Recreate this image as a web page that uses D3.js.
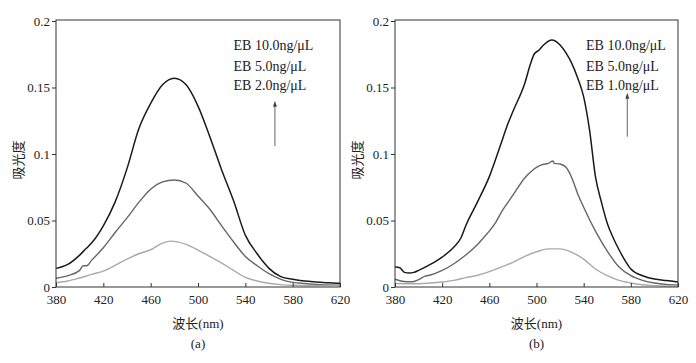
<!DOCTYPE html>
<html>
<head>
<meta charset="utf-8">
<script src="https://cdn.jsdelivr.net/npm/d3@7"></script>
<style>
body{margin:0;background:#fff}
text{font-family:"Liberation Serif","Times New Roman",serif;fill:#222}
.cjk{font-family:"Noto Sans CJK SC","Noto Sans",sans-serif}
</style>
</head>
<body>
<svg id="chart" width="696" height="363"></svg>
<script>
// tick values / labels
var xTicks = [380, 420, 460, 500, 540, 580, 620];
var yTicks = [0, 0.05, 0.1, 0.15, 0.2];
var yTickLabels = ["0", "0.05", "0.1", "0.15", "0.2"];

// panel (a)
var nmA_hi = [380,390,400,405,410,420,430,440,450,460,470,480,490,500,510,520,530,540,550,556,560,570,580,590,600,610,620];
var absA_hi = [0.014,0.017,0.024,0.0285,0.033,0.046,0.064,0.089,0.119,0.138,0.152,0.157,0.152,0.136,0.113,0.088,0.065,0.039,0.025,0.018,0.014,0.0078,0.0058,0.0045,0.0038,0.0032,0.0028];
var nmA_mid = [380,390,400,403,406,410,420,430,440,450,460,470,480,490,500,510,520,530,540,550,560,570,580,590,600,610,620];
var absA_mid = [0.0066,0.0085,0.0125,0.016,0.016,0.02,0.0295,0.041,0.052,0.0636,0.0735,0.079,0.0805,0.078,0.0684,0.0585,0.046,0.034,0.023,0.016,0.010,0.0058,0.0035,0.0026,0.002,0.0016,0.0013];
var nmA_lo = [380,390,400,410,420,430,440,450,460,470,477,490,500,510,520,530,540,550,560,570,580,600,620];
var absA_lo = [0.0033,0.0045,0.0068,0.0095,0.012,0.0163,0.021,0.025,0.028,0.033,0.0345,0.032,0.0278,0.023,0.018,0.0125,0.0073,0.0045,0.0028,0.0018,0.0013,0.001,0.001];

// panel (b)
var nmB_hi = [380,384,388,392,396,400,410,420,430,436,440,450,460,470,475,480,490,495,498,502,506,513,520,525,530,535,540,545,550,555,560,565,570,575,580,590,600,610,620];
var absB_hi = [0.015,0.0145,0.011,0.0105,0.011,0.0125,0.017,0.0225,0.030,0.037,0.046,0.064,0.083,0.108,0.121,0.132,0.153,0.168,0.175,0.178,0.182,0.1857,0.182,0.176,0.168,0.157,0.143,0.118,0.083,0.064,0.048,0.037,0.028,0.020,0.0135,0.0085,0.006,0.0048,0.0038];
var nmB_mid = [380,385,390,395,400,405,410,420,430,440,450,456,460,465,470,480,490,495,500,505,510,514,515,520,525,530,535,540,550,560,570,580,590,600,610,620];
var absB_mid = [0.0058,0.0045,0.004,0.004,0.0055,0.008,0.009,0.0125,0.0175,0.024,0.032,0.038,0.042,0.048,0.056,0.069,0.082,0.0865,0.09,0.092,0.093,0.0947,0.093,0.0925,0.09,0.082,0.07,0.06,0.042,0.027,0.015,0.0085,0.005,0.003,0.002,0.0015];
var nmB_lo = [380,390,400,410,420,430,440,450,460,470,480,490,500,510,520,530,540,550,560,570,580,590,600,610,620];
var absB_lo = [0.0026,0.0025,0.0025,0.003,0.0038,0.005,0.007,0.0088,0.0115,0.015,0.0185,0.023,0.0265,0.0287,0.0287,0.026,0.021,0.0135,0.0085,0.005,0.003,0.0017,0.001,0.0008,0.0008];

var colors = ["#1a1a1a", "#666666", "#aaaaaa"];

var panels = [
  {left:56, right:340, tag:"(a)",
   series:[[nmA_hi,absA_hi],[nmA_mid,absA_mid],[nmA_lo,absA_lo]],
   legend:["EB 10.0ng/\u03bcL","EB 5.0ng/\u03bcL","EB 2.0ng/\u03bcL"],
   legendNm:530, arrowNm:565, arrow:[0.106,0.140]},
  {left:395, right:678, tag:"(b)",
   series:[[nmB_hi,absB_hi],[nmB_mid,absB_mid],[nmB_lo,absB_lo]],
   legend:["EB 10.0ng/\u03bcL","EB 5.0ng/\u03bcL","EB 1.0ng/\u03bcL"],
   legendNm:542, arrowNm:577, arrow:[0.113,0.146]}
];

var plotTop = 21, plotBottom = 287;
var svg = d3.select("#chart");

panels.forEach(function(p){
  var x = d3.scaleLinear().domain([380,620]).range([p.left,p.right]);
  var y = d3.scaleLinear().domain([0,0.2]).range([plotBottom,plotTop]);
  var g = svg.append("g");

  // curves
  var line = d3.line().x(function(d){return x(d[0]);}).y(function(d){return y(d[1]);}).curve(d3.curveMonotoneX);
  p.series.forEach(function(s,i){
    var pts = d3.zip(s[0], s[1]);
    g.append("path").attr("d", line(pts)).attr("fill","none")
      .attr("stroke", colors[i]).attr("stroke-width", i==0 ? 1.5 : 1.4);
  });

  // frame
  g.append("rect").attr("x",p.left).attr("y",plotTop-1).attr("width",p.right-p.left).attr("height",plotBottom-plotTop+1)
    .attr("fill","none").attr("stroke","#333").attr("stroke-width",1);

  // axes
  var xa = g.append("g").attr("transform","translate(0,"+plotBottom+")")
    .call(d3.axisBottom(x).tickValues(xTicks).tickSizeInner(-4).tickSizeOuter(0).tickPadding(8));
  var ya = g.append("g").attr("transform","translate("+p.left+",0)")
    .call(d3.axisLeft(y).tickValues(yTicks).tickFormat(function(d,i){return yTickLabels[i];}).tickSize(4).tickPadding(2));
  [xa,ya].forEach(function(a){
    a.select(".domain").remove();
    a.selectAll("line").attr("stroke","#333");
    a.selectAll("text").attr("font-family","Liberation Serif, serif").attr("font-size",13).attr("fill","#222");
  });

  // axis titles
  g.append("text").attr("class","cjk").attr("font-size",13)
    .attr("transform","translate("+(p.left-37)+",160) rotate(-90)")
    .attr("text-anchor","middle").attr("dominant-baseline","middle").text("吸光度");
  var cx = (p.left+p.right)/2;
  var xt = g.append("text").attr("x",cx).attr("y",328).attr("text-anchor","middle").attr("font-size",13);
  xt.append("tspan").attr("class","cjk").text("波长");
  xt.append("tspan").text("(nm)");
  g.append("text").attr("x",cx).attr("y",348).attr("text-anchor","middle").attr("font-size",13).text(p.tag);

  // legend
  var ly = [49.5, 71, 89.5];
  p.legend.forEach(function(t,i){
    g.append("text").attr("x",x(p.legendNm)).attr("y",ly[i]).attr("font-size",14).text(t);
  });

  // arrow
  var ax = x(p.arrowNm), y0 = y(p.arrow[0]), y1 = y(p.arrow[1]);
  g.append("line").attr("x1",ax).attr("x2",ax).attr("y1",y0).attr("y2",y1+4)
    .attr("stroke","#666").attr("stroke-width",1);
  g.append("path").attr("d","M"+ax+","+y1+"L"+(ax-2)+","+(y1+6)+"L"+(ax+2)+","+(y1+6)+"Z").attr("fill","#444");
});
</script>
</body>
</html>
